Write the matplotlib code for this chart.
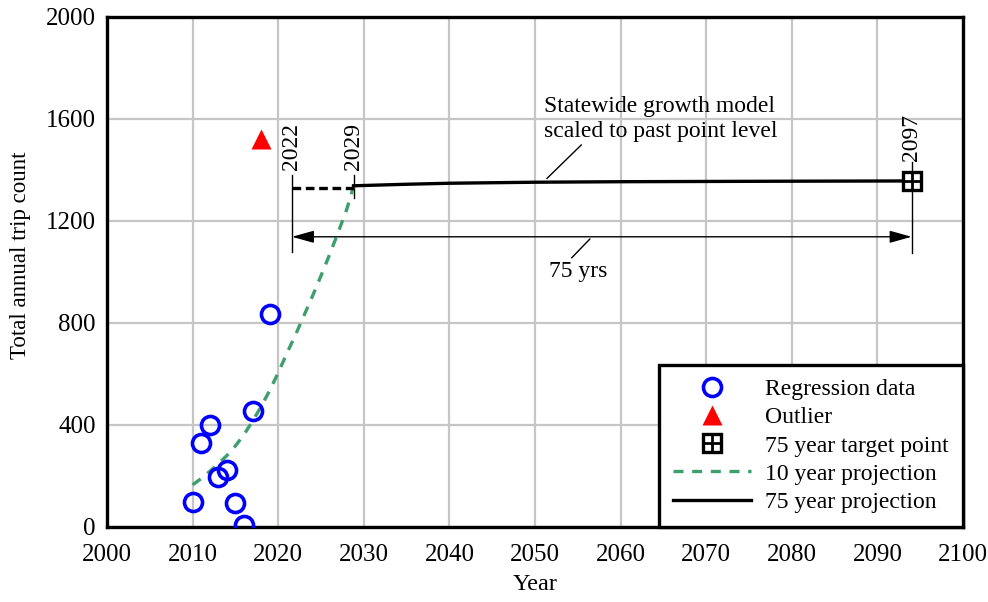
import matplotlib
matplotlib.use('Agg')
import matplotlib.pyplot as plt
from matplotlib.legend_handler import HandlerTuple

plt.rcParams['font.family'] = ['Liberation Serif', 'DejaVu Serif']
plt.rcParams['font.size'] = 17

# Observed yearly trip counts used in the regression
reg_years = [2010, 2011, 2012, 2013, 2014, 2015, 2016, 2017, 2019]
reg_trips = [98, 330, 400, 196, 224, 94, 8, 456, 837]

# Outlier excluded from the regression
outlier_year = [2018]
outlier_trips = [1520]

# 10 year projection curve
proj10_years = [2010, 2011, 2012, 2013, 2014, 2015, 2016, 2017, 2018, 2019,
                2020, 2021, 2022, 2023, 2024, 2025, 2026, 2027, 2028, 2028.8]
proj10_trips = [165, 190, 218, 248, 280, 318, 362, 415, 472, 535,
                605, 680, 752, 828, 905, 985, 1068, 1155, 1245, 1335]

# Flat segment between 2022 and 2029
hold_years = [2021.6, 2028.8]
hold_trips = [1331, 1331]

# Statewide growth model scaled to past point level
proj75_years = [2028.8, 2035, 2040, 2050, 2060, 2070, 2080, 2094]
proj75_trips = [1338, 1344, 1348, 1352, 1354, 1355, 1356, 1357]

# 75 year target point
target_year = [2094]
target_trips = [1357]

# Marker years for the dimension lines and their labels
mark_years = [2021.6, 2028.8, 2094]
mark_labels = ['2022', '2029', '2097']

fig = plt.figure(figsize=(9.88, 6.02), dpi=100)
ax = fig.add_axes([0.1083, 0.1246, 0.8664, 0.8472])

green = '#3c9f6c'

reg, = ax.plot(reg_years, reg_trips, 'o', ms=13, mfc='none', mec='#0000ff', mew=2.6,
               label='Regression data', zorder=4)
out, = ax.plot(outlier_year, outlier_trips, '^', ms=15, color='#ff0000', mec='none',
               label='Outlier', zorder=4)
p10, = ax.plot(proj10_years, proj10_trips, color=green, lw=2.4, ls=(0, (3, 2.6)),
               label='10 year projection', zorder=3)
ax.plot(hold_years, hold_trips, color='black', lw=2.4, ls=(0, (2.6, 1.4)), zorder=3)
p75, = ax.plot(proj75_years, proj75_trips, color='black', lw=2.4,
               label='75 year projection', zorder=3)
sq, = ax.plot(target_year, target_trips, 's', ms=13, mfc='white', mec='black', mew=2.4, zorder=5)
pl, = ax.plot(target_year, target_trips, '+', ms=13, mec='black', mew=2.0, zorder=6)

# dimension lines
ax.plot([mark_years[0]] * 2, [1080, 1380], color='black', lw=1)
ax.plot([mark_years[1]] * 2, [1290, 1380], color='black', lw=1)
ax.plot([mark_years[2]] * 2, [1075, 1432], color='black', lw=1)
ax.text(mark_years[0], 1400, mark_labels[0], rotation=90, ha='center', va='bottom')
ax.text(mark_years[1], 1400, mark_labels[1], rotation=90, ha='center', va='bottom')
ax.text(mark_years[2], 1434, mark_labels[2], rotation=90, ha='center', va='bottom')

ax.annotate('', xy=(mark_years[0], 1138), xytext=(mark_years[2], 1138),
            arrowprops=dict(arrowstyle='<|-|>,head_length=0.9,head_width=0.25',
                            mutation_scale=15, lw=1, color='black',
                            shrinkA=0, shrinkB=0))
ax.text(2055.0, 1000, '75 yrs', ha='center', va='center')
ax.plot([2054.3, 2056.4], [1056, 1129], color='black', lw=1)

ax.text(2051.05, 1600, 'Statewide growth model\nscaled to past point level',
        ha='left', va='center', linespacing=1.2)
ax.plot([2051.4, 2055.4], [1367, 1498], color='black', lw=1)

ax.set_xlim(2000, 2100)
ax.set_ylim(0, 2000)
ax.set_xticks(range(2000, 2101, 10))
ax.set_yticks(range(0, 2001, 400))
ax.tick_params(length=0, labelsize=18)
ax.tick_params(axis='x', pad=12)
ax.tick_params(axis='y', pad=8)
ax.grid(True, color='#c6c6c6', lw=1.6)
ax.set_axisbelow(True)
for s in ax.spines.values():
    s.set_linewidth(2.4)
ax.set_xlabel('Year', fontsize=17.5, labelpad=6)
ax.set_ylabel('Total annual trip count', fontsize=16.5)
ax.yaxis.set_label_coords(-0.089, 0.533)

leg = ax.legend([reg, out, (sq, pl), p10, p75],
                ['Regression data', 'Outlier', '75 year target point',
                 '10 year projection', '75 year projection'],
                handler_map={tuple: HandlerTuple(ndivide=1)},
                loc='lower right', borderaxespad=0, fancybox=False, framealpha=1,
                edgecolor='black', handlelength=3.3, handletextpad=0.6,
                labelspacing=0.28, borderpad=0.6, fontsize=17)
leg.get_frame().set_linewidth(2.4)
leg.set_zorder(10)

fig.savefig('out.png', dpi=100)
